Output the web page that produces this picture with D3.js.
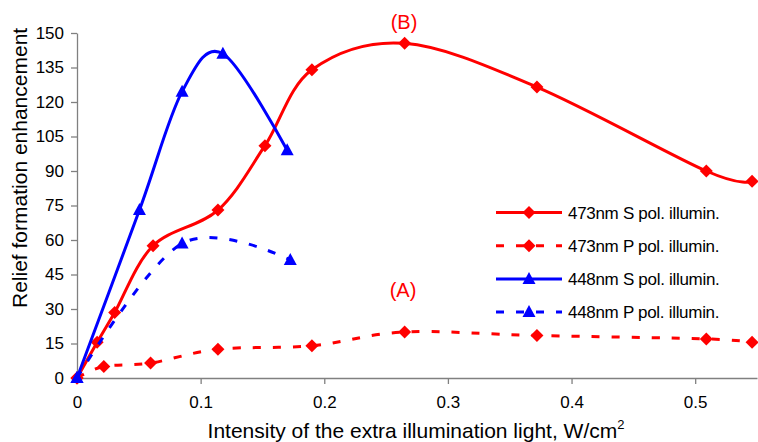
<!DOCTYPE html>
<html>
<head>
<meta charset="utf-8">
<script src="https://cdn.jsdelivr.net/npm/d3@7"></script>
<style>
body{margin:0;background:#fff;}
svg{display:block;font-family:"Liberation Sans",Arial,sans-serif;}
</style>
</head>
<body>
<svg id="graphique" width="758" height="442"></svg>
<script>
// donnees
var x473S = [0, 0.0163, 0.0305, 0.0615, 0.114, 0.152, 0.19, 0.265, 0.372, 0.509, 0.546];
var y473S = [0, 15.5, 28.5, 57.5, 73, 101, 134, 145.5, 126.5, 90, 85.5];

var x473P = [0, 0.0217, 0.0595, 0.114, 0.19, 0.265, 0.372, 0.509, 0.546];
var y473P = [0, 5, 6.5, 12.5, 14, 20, 18.5, 17, 15.5];

var x448S = [0, 0.0505, 0.085, 0.118, 0.17];
var y448S = [0, 73, 124.5, 141, 99];

var x448P = [0, 0.085, 0.1725];
var y448P = [0, 58.5, 51.3];

var yTicks = [0, 15, 30, 45, 60, 75, 90, 105, 120, 135, 150];
var xTicks = [0, 0.1, 0.2, 0.3, 0.4, 0.5];

var legendLabels = ["473nm S pol. illumin.", "473nm P pol. illumin.", "448nm S pol. illumin.", "448nm P pol. illumin."];

var series = [
	{xs: x473S, ys: y473S, color: "#ff0000", dash: null, marker: "diamond"},
	{xs: x473P, ys: y473P, color: "#ff0000", dash: "8,12", marker: "diamond"},
	{xs: x448S, ys: y448S, color: "#0000ff", dash: null, marker: "triangle"},
	{xs: x448P, ys: y448P, color: "#0000ff", dash: "8,12", marker: "triangle"}
];

var WIDTH = 758;
var HEIGHT = 442;
var MARGINS = {top: 33, right: 1, bottom: 64, left: 77};

var graphique = d3.select("#graphique");

var xScale = d3.scaleLinear().range([MARGINS.left, WIDTH - MARGINS.right]).domain([0, 0.55]);
var yScale = d3.scaleLinear().range([HEIGHT - MARGINS.bottom, MARGINS.top]).domain([0, 150]);

function markerPath(type){
	if(type == "diamond"){
		return "M0,-6.5L6.5,0L0,6.5L-6.5,0Z";
	}
	return "M0,-7L6.5,5L-6.5,5Z";
}

//// axes
var xAxis = d3.axisBottom(xScale).tickValues(xTicks).tickSize(6).tickSizeOuter(0)
	.tickFormat(function(d){ return d == 0 ? "0" : d3.format(".1f")(d); });
var yAxis = d3.axisLeft(yScale).tickValues(yTicks).tickSize(6).tickSizeOuter(0);

var gx = graphique.append("g")
	.attr("transform", "translate(0," + (HEIGHT - MARGINS.bottom) + ")")
	.call(xAxis);
var gy = graphique.append("g")
	.attr("transform", "translate(" + MARGINS.left + ",0)")
	.call(yAxis);

[gx, gy].forEach(function(g){
	g.selectAll("path, line").attr("stroke", "#808080").attr("stroke-width", 1.3);
	g.selectAll("text").attr("fill", "#000").style("font-size", "17px")
		.style("font-family", "'Liberation Sans', Arial, sans-serif");
});
gx.selectAll("text").attr("dy", "1.25em");
gy.selectAll("text").attr("x", -13);

//// titres des axes
var xTitle = graphique.append("text")
	.attr("x", 416).attr("y", 438)
	.attr("text-anchor", "middle")
	.style("font-size", "21px");
xTitle.append("tspan").text("Intensity of the extra illumination light, W/cm");
xTitle.append("tspan").attr("dy", -9).style("font-size", "13px").text("2");

graphique.append("text")
	.attr("transform", "translate(27,308) rotate(-90)")
	.attr("text-anchor", "start")
	.style("font-size", "21px")
	.text("Relief formation enhancement");

//// courbes
series.forEach(function(s){
	var points = s.xs.map(function(v, i){ return [v, s.ys[i]]; });
	var line = d3.line()
		.x(function(d){ return xScale(d[0]); })
		.y(function(d){ return yScale(d[1]); })
		.curve(d3.curveCardinal.tension(0));

	graphique.append("path")
		.attr("d", line(points))
		.attr("fill", "none")
		.attr("stroke", s.color)
		.attr("stroke-width", 3)
		.attr("stroke-dasharray", s.dash);

	graphique.append("g").selectAll("path")
		.data(points)
		.enter().append("path")
		.attr("d", markerPath(s.marker))
		.attr("transform", function(d){ return "translate(" + xScale(d[0]) + "," + yScale(d[1]) + ")"; })
		.attr("fill", s.color);
});

//// annotations
graphique.append("text").attr("x", 404).attr("y", 29)
	.attr("text-anchor", "middle").attr("fill", "#ff0000").style("font-size", "20px").text("(B)");
graphique.append("text").attr("x", 403).attr("y", 297)
	.attr("text-anchor", "middle").attr("fill", "#ff0000").style("font-size", "20px").text("(A)");

//// legende
var legende = graphique.append("g");
series.forEach(function(s, i){
	var yl = 212.5 + i * 33.2;
	legende.append("line")
		.attr("x1", 496).attr("x2", 562).attr("y1", yl).attr("y2", yl)
		.attr("stroke", s.color).attr("stroke-width", 3)
		.attr("stroke-dasharray", s.dash);
	legende.append("path")
		.attr("d", markerPath(s.marker))
		.attr("transform", "translate(529," + yl + ")")
		.attr("fill", s.color);
	legende.append("text")
		.attr("x", 568).attr("y", yl + 6)
		.style("font-size", "17px")
		.style("letter-spacing", "-0.3px")
		.text(legendLabels[i]);
});
</script>
</body>
</html>
